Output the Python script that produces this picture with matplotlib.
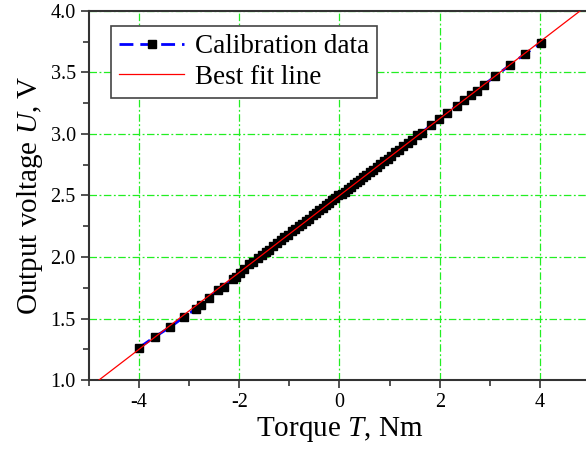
#!/usr/bin/env python3
"""Torque sensor calibration: output voltage vs torque with best fit line."""

import matplotlib
matplotlib.use("Agg")
import matplotlib.pyplot as plt
from matplotlib.ticker import MultipleLocator

# calibration data
torque = [
    -4.01, -3.69, -3.38, -3.11, -2.86, -2.76, -2.60, -2.43, -2.30, -2.13,
    -2.07, -1.99, -1.90, -1.80, -1.72, -1.63, -1.55, -1.47, -1.40, -1.32,
    -1.25, -1.17, -1.10, -1.02, -0.95, -0.88, -0.81, -0.74, -0.67, -0.60,
    -0.53, -0.46, -0.40, -0.33, -0.27, -0.20, -0.14, -0.08, -0.02, 0.04,
    0.10, 0.16, 0.22, 0.28, 0.34, 0.40, 0.47, 0.53, 0.60, 0.67,
    0.74, 0.81, 0.88, 0.96, 1.03, 1.11, 1.19, 1.27, 1.36, 1.45,
    1.55, 1.64, 1.82, 1.99, 2.15, 2.34, 2.49, 2.62, 2.74, 2.88,
    3.11, 3.40, 3.70, 4.02,
]
voltage = [
    1.26, 1.35, 1.43, 1.51, 1.58, 1.61, 1.67, 1.73, 1.76, 1.82,
    1.84, 1.87, 1.90, 1.94, 1.96, 1.99, 2.02, 2.04, 2.06, 2.09,
    2.11, 2.14, 2.16, 2.18, 2.21, 2.23, 2.25, 2.27, 2.29, 2.31,
    2.34, 2.36, 2.38, 2.40, 2.42, 2.44, 2.46, 2.48, 2.50, 2.51,
    2.53, 2.55, 2.57, 2.59, 2.61, 2.63, 2.65, 2.67, 2.69, 2.71,
    2.73, 2.76, 2.78, 2.80, 2.82, 2.85, 2.87, 2.90, 2.93, 2.95,
    2.99, 3.01, 3.07, 3.12, 3.17, 3.23, 3.28, 3.32, 3.35, 3.40,
    3.47, 3.56, 3.65, 3.74,
]

# best fit line end points
fit_torque = [-4.8, 4.8]
fit_voltage = [1.0, 4.0]

plt.rcParams["font.family"] = ["Liberation Serif", "DejaVu Serif"]
plt.rcParams["mathtext.fontset"] = "custom"
plt.rcParams["mathtext.it"] = "Liberation Serif:italic"
plt.rcParams["mathtext.rm"] = "Liberation Serif"
plt.rcParams["axes.unicode_minus"] = False

fig = plt.figure(figsize=(5.86, 4.53), dpi=100)
ax = fig.add_axes([89 / 586, 1 - 380 / 453, 501 / 586, 369 / 453])

ax.plot(torque, voltage, color="#0000ff", linewidth=2, linestyle=(0, (5, 2.5)),
        marker="s", markersize=5.2, markerfacecolor="black",
        markeredgecolor="black", label="Calibration data", zorder=3)
ax.plot(fit_torque, fit_voltage, color="#ff0000", linewidth=0.9,
        label="Best fit line", zorder=4)

ax.set_xlim(-5, 5)
ax.set_ylim(1.0, 4.0)
ax.xaxis.set_major_locator(MultipleLocator(2))
ax.xaxis.set_minor_locator(MultipleLocator(1))
ax.yaxis.set_major_locator(MultipleLocator(0.5))
ax.yaxis.set_minor_locator(MultipleLocator(0.25))
ax.yaxis.set_major_formatter(plt.FormatStrFormatter("%.1f"))

ax.grid(True, which="major", color="#22ee22", linestyle=(0, (6, 2, 1.5, 2)),
        linewidth=0.9)
ax.set_axisbelow(True)

for side in ["left", "bottom", "top", "right"]:
    ax.spines[side].set_color("#333333")
    ax.spines[side].set_linewidth(1.5)

ax.tick_params(which="both", direction="out", top=False, right=False,
               color="#333333", width=1.2, labelsize=14.5)
ax.tick_params(which="major", length=6)
ax.tick_params(which="minor", length=4)

ax.set_xlabel("Torque $T$, Nm", fontsize=21, labelpad=2)
ax.set_ylabel("Output voltage $U$, V", fontsize=21, labelpad=4)

leg = ax.legend(loc="upper left", bbox_to_anchor=(0.044, 0.959),
                borderaxespad=0, fontsize=19.5, handlelength=2.4,
                fancybox=False, framealpha=1, edgecolor="#444444",
                borderpad=0.3, labelspacing=0.2, handletextpad=0.4)
leg.get_frame().set_linewidth(1.2)

fig.savefig("out.png", dpi=100)
